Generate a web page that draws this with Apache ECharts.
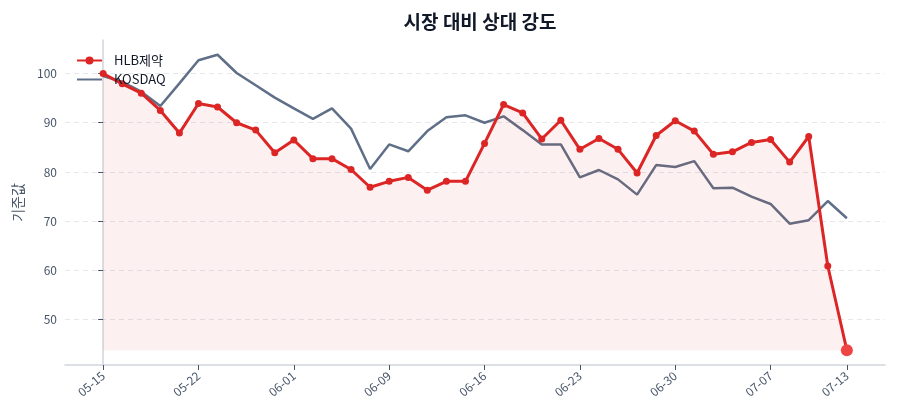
<!DOCTYPE html>
<html>
<head>
<meta charset="utf-8">
<script src="https://cdn.jsdelivr.net/npm/echarts@6/dist/echarts.min.js"></script>
<style>
  html, body { margin: 0; padding: 0; background: #fff; }
  #chart { width: 900px; height: 420px; }
</style>
</head>
<body>
<div id="chart"></div>
<script>
var dates = ['05-15','05-16','05-19','05-20','05-21','05-22','05-23','05-26','05-28','05-30',
             '06-01','06-02','06-04','06-05','06-08','06-09','06-10','06-11','06-12','06-15',
             '06-16','06-17','06-18','06-19','06-22','06-23','06-24','06-25','06-26','06-29',
             '06-30','07-01','07-02','07-03','07-06','07-07','07-08','07-09','07-10','07-13'];
var hlb = [100.0, 97.9, 96.0, 92.5, 87.9, 93.9, 93.2, 90.0, 88.5, 83.9,
           86.5, 82.7, 82.7, 80.5, 76.9, 78.1, 78.9, 76.3, 78.1, 78.1,
           85.8, 93.7, 92.0, 86.7, 90.5, 84.6, 86.8, 84.6, 79.8, 87.4,
           90.4, 88.3, 83.6, 84.1, 86.0, 86.6, 82.0, 87.2, 60.9, 43.8];
var kosdaq = [99.5, 98.3, 96.3, 93.4, 98.0, 102.7, 103.8, 100.1, 97.6, 95.1,
              92.9, 90.8, 92.9, 88.8, 80.6, 85.6, 84.2, 88.3, 91.1, 91.5,
              90.0, 91.3, 88.5, 85.6, 85.6, 78.9, 80.4, 78.5, 75.4, 81.4,
              81.0, 82.2, 76.7, 76.8, 75.0, 73.5, 69.5, 70.2, 74.1, 70.6];
var yTicks = [50, 60, 70, 80, 90, 100];
var labelIdx = [0, 5, 10, 15, 20, 25, 30, 35, 39];

var chart = echarts.init(document.getElementById('chart'));
var font = '"Noto Sans CJK KR", "Noto Sans", sans-serif';
var lastIdx = hlb.length - 1;

var hlbData = hlb.map(function (v, i) {
    if (i === lastIdx) {
        return { value: [i, v], symbolSize: 12, itemStyle: { color: '#ef4444' } };
    }
    return [i, v];
});
var kosdaqData = kosdaq.map(function (v, i) { return [i, v]; });
var minVal = Math.min.apply(null, hlb);

chart.setOption({
    animation: false,
    textStyle: { fontFamily: font },
    title: {
        text: '시장 대비 상대 강도',
        left: 475,
        textAlign: 'center',
        top: 7,
        textStyle: { fontSize: 19, fontWeight: 'bold', color: '#111827', fontFamily: font }
    },
    legend: {
        orient: 'vertical',
        left: 71,
        top: 49,
        itemWidth: 25,
        itemHeight: 10,
        itemGap: 6,
        textStyle: { fontSize: 13, color: '#111827', fontFamily: font, padding: [0, 0, 0, 7] },
        data: ['HLB제약', { name: 'KOSDAQ', itemStyle: { opacity: 0 } }]
    },
    grid: { left: 65, right: 15, top: 40, bottom: 55 },
    xAxis: {
        type: 'value',
        min: -2,
        max: 41,
        splitLine: { show: false },
        axisLine: { lineStyle: { color: '#d1d5db', width: 1.5 } },
        axisTick: { customValues: labelIdx, length: 5, lineStyle: { color: '#475569' } },
        axisLabel: {
            customValues: labelIdx,
            rotate: 40,
            fontSize: 12,
            color: '#475569',
            margin: 9,
            formatter: function (v) { return dates[Math.round(v)]; }
        }
    },
    yAxis: {
        type: 'value',
        min: 40.8,
        max: 106.8,
        name: '기준값',
        nameLocation: 'middle',
        nameGap: 40,
        nameTextStyle: { fontSize: 14, color: '#475569', fontFamily: font },
        axisLine: { show: true, lineStyle: { color: '#d1d5db', width: 1.5 } },
        axisTick: { show: true, customValues: yTicks, length: 5, lineStyle: { color: '#475569' } },
        axisLabel: { customValues: yTicks, fontSize: 12, color: '#475569' },
        splitLine: { show: true, lineStyle: { color: '#e5e7eb', type: [5, 4], width: 1 } }
    },
    series: [
        {
            name: 'HLB제약',
            type: 'line',
            data: hlbData,
            z: 3,
            symbol: 'circle',
            symbolSize: 7,
            showSymbol: true,
            lineStyle: { color: '#dc2626', width: 3 },
            itemStyle: { color: '#dc2626' },
            areaStyle: { color: 'rgba(220, 38, 38, 0.1)', origin: minVal }
        },
        {
            name: 'KOSDAQ',
            type: 'line',
            data: kosdaqData,
            z: 2,
            symbol: 'none',
            lineStyle: { color: '#5f6f87', width: 2.5 },
            itemStyle: { color: '#5f6f87' }
        }
    ]
});
</script>
</body>
</html>
